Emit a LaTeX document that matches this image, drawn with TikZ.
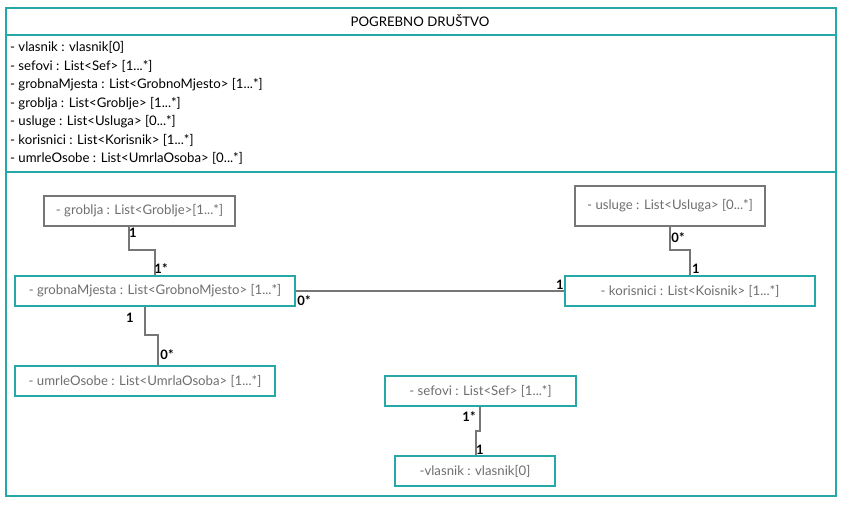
\documentclass[tikz,border=0pt]{standalone}
\usepackage{fontspec}
\setmainfont{Lato}
\definecolor{teal2}{RGB}{38,168,168}
\definecolor{gbox}{RGB}{118,118,118}
\definecolor{gtext}{RGB}{110,110,110}
\begin{document}
\begin{tikzpicture}[x=1pt,y=-1pt,
  tbox/.style={draw=teal2,line width=1.6pt,rectangle,inner sep=0pt,text=gtext,font=\fontsize{13.2}{15}\selectfont},
  gbox/.style={draw=gbox,line width=1.8pt,rectangle,inner sep=0pt,text=gtext,font=\fontsize{13.2}{15}\selectfont},
  conn/.style={draw=gbox,line width=1.6pt},
  mult/.style={font=\bfseries\fontsize{13}{15}\selectfont,inner sep=0pt}]
\useasboundingbox (0,0) rectangle (843,507);
% outer class
\node[draw=teal2,line width=1.6pt,minimum width=830,minimum height=488,anchor=north west,inner sep=0pt] (outer) at (5,7) {};
\draw[teal2,line width=1.6pt] (5,35) coordinate (d1a) -- (835,35) coordinate (d1b);
\draw[teal2,line width=1.6pt] (5,172) coordinate (d2a) -- (835,172) coordinate (d2b);
\node[font=\fontsize{13.2}{15}\selectfont] (title) at (420,21) {POGREBNO DRUŠTVO};
\node[anchor=north west,align=left,inner sep=0pt,font=\fontsize{13.2}{18.5}\selectfont] (attrs) at (10,41.5) {%
- vlasnik : vlasnik[0]\\
- sefovi : List<Sef> [1...*]\\
- grobnaMjesta : List<GrobnoMjesto> [1...*]\\
- groblja : List<Groblje> [1...*]\\
- usluge : List<Usluga> [0...*]\\
- korisnici : List<Korisnik> [1...*]\\
- umrleOsobe : List<UmrlaOsoba> [0...*]};
% boxes
\node[gbox,minimum width=191,minimum height=30] (groblja) at (139.5,211) {- groblja : List<Groblje>[1...*]};
\node[tbox,minimum width=280,minimum height=30] (grobna) at (155,291) {- grobnaMjesta : List<GrobnoMjesto> [1...*]};
\node[tbox,minimum width=260,minimum height=30] (umrle) at (145,381) {- umrleOsobe : List<UmrlaOsoba> [1...*]};
\node[gbox,minimum width=190,minimum height=40] (usluge) at (670,206) {- usluge : List<Usluga> [0...*]};
\node[tbox,minimum width=250,minimum height=30] (korisnici) at (690,291) {- korisnici : List<Koisnik> [1...*]};
\node[tbox,minimum width=191,minimum height=30] (sefovi) at (480.5,391) {- sefovi : List<Sef> [1...*]};
\node[tbox,minimum width=160,minimum height=30] (vlasnik) at (475,471) {-vlasnik : vlasnik[0]};
% connectors
\draw[conn] (groblja.south -| 129,0) |- (155,250) -- (grobna.north -| 155,0);
\draw[conn] (grobna.south -| 145,0) |- (158,335) -- (umrle.north -| 158,0);
\draw[conn] (grobna.east) -- (korisnici.west);
\draw[conn] (usluge.south -| 670,0) |- (690,250) -- (korisnici.north -| 690,0);
\draw[conn] (sefovi.south -| 480,0) |- (476,431) -- (vlasnik.north -| 476,0);
% multiplicities
\node[mult] (m1) at (133,233) {1};
\node[mult] (m2) at (161,269) {1*};
\node[mult] (m3) at (130,318) {1};
\node[mult] (m4) at (167,355) {0*};
\node[mult] (m5) at (304,301) {0*};
\node[mult] (m6) at (560,285) {1};
\node[mult] (m7) at (678,238) {0*};
\node[mult] (m8) at (696,269) {1};
\node[mult] (m9) at (469,417) {1*};
\node[mult] (m10) at (480,450) {1};
\end{tikzpicture}
\end{document}
